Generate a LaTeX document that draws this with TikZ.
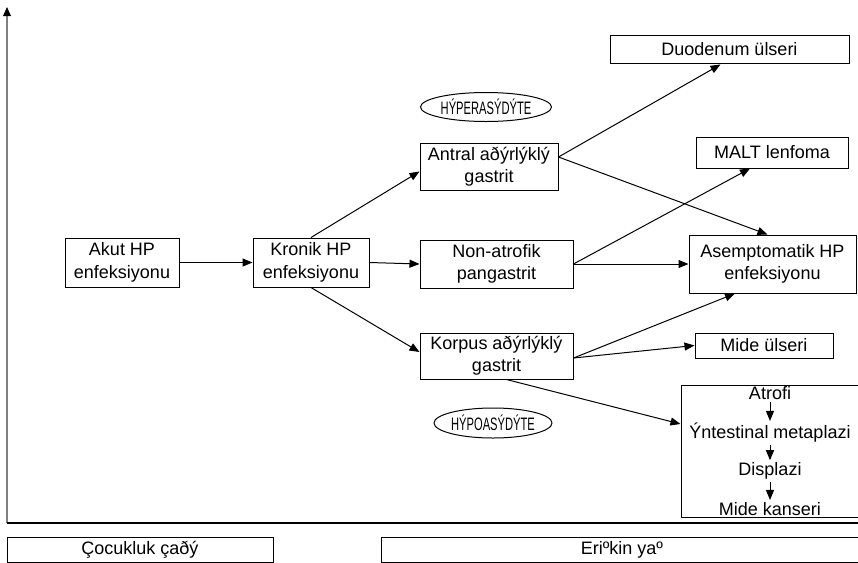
\documentclass[tikz,border=0pt]{standalone}
\usepackage{fontspec}
\setmainfont{Liberation Sans}
\usetikzlibrary{arrows.meta,calc,shapes.geometric}
\begin{document}
\begin{tikzpicture}[x=0.5pt,y=-0.5pt,
  font=\fontsize{9}{11.2}\selectfont,
  box/.style 2 args={draw,line width=0.5pt,minimum width=#1*0.5pt,minimum height=#2*0.5pt,inner sep=1pt,align=center},
  oval/.style 2 args={draw,ellipse,line width=0.5pt,minimum width=#1*0.5pt,minimum height=#2*0.5pt,inner sep=0pt},
  plain/.style={inner sep=1pt},
  conn/.style={line width=0.5pt,-{Triangle[length=5pt,width=4pt]}},
  line/.style={line width=0.5pt}]
\useasboundingbox (0,0) rectangle (858,563);
% axes
\coordinate (ytop) at (7,7);
\coordinate (origin) at (7,523);
\coordinate (xend) at (858,523);
\draw[line width=0.6pt,gray] (origin) -- ($(ytop)+(0,8)$);
\fill ($(ytop)$) -- ($(ytop)+(-4,9)$) -- ($(ytop)+(4,9)$) -- cycle;
\draw[line width=0.6pt] (origin) -- (xend);
% nodes
\node[box={114}{49}] (akut) at (122,262.5) {Akut HP\\enfeksiyonu};
\node[box={116}{49}] (kronik) at (311,262.5) {Kronik HP\\enfeksiyonu};
\node[box={138}{47}] (antral) at (489,166.5) {Antral aðýrlýklý\\gastrit};
\node[box={153}{48}] (nonatrofik) at (496.5,264) {Non-atrofik\\pangastrit};
\node[box={153}{46}] (korpus) at (496.5,356) {Korpus aðýrlýklý\\gastrit};
\node[oval={131}{29}] (hyper) at (486,107) {};
\node[plain] (hypertext) at (hyper.center) {\scalebox{0.62}[1]{HÝPERASÝDÝTE}};
\node[oval={118}{30}] (hypo) at (493,423) {};
\node[plain] (hypotext) at (hypo.center) {\scalebox{0.62}[1]{HÝPOASÝDÝTE}};
\node[box={239}{28}] (duodenum) at (729.5,49) {Duodenum ülseri};
\node[box={152}{31}] (malt) at (772,152.5) {MALT lenfoma};
\node[box={167}{58}] (asemp) at (772.5,264) {Asemptomatik HP\\enfeksiyonu};
\node[box={138}{25}] (mideulser) at (764,345.5) {Mide ülseri};
\node[box={181}{132}] (big) at (771.5,451) {};
\node[plain] (atrofi) at (770,393) {Atrofi};
\node[plain] (intest) at (770,433) {Ýntestinal metaplazi};
\node[plain] (displazi) at (770,471) {Displazi};
\node[plain] (kanser) at (770,509) {Mide kanseri};
\node[box={266}{25}] (cocuk) at (140,549.5) {Çocukluk çaðý};
\node[box={482}{25}] (eriskin) at (622,549.5) {Eriºkin yaº};
% connectors
\draw[conn] (akut.east) -- (kronik.west);
\draw[conn] (kronik.east) -- (nonatrofik.west);
\draw[conn] (kronik.north) -- ($(antral.west)+(0,5)$);
\draw[conn] (kronik.south) -- ($(korpus.west)+(0,-4)$);
\coordinate (antralout) at ($(antral.east)+(0,-9.5)$);
\draw[conn] (antralout) -- ($(duodenum.south)+(-9,1)$);
\draw[conn] (antralout) -- ($(asemp.north)+(-5,0)$);
\draw[conn] (nonatrofik.east) -- ($(malt.south)+(-22,0)$);
\draw[conn] (nonatrofik.east) -- (asemp.west);
\coordinate (korpusout) at ($(korpus.east)+(0,2)$);
\draw[conn] (korpusout) -- ($(asemp.south)+(-37.5,0)$);
\draw[conn] (korpusout) -- (mideulser.west);
\draw[conn] ($(korpus.south)+(10,0)$) -- ($(big.west)+(0,-27)$);
\draw[conn] (atrofi) -- (intest);
\draw[conn] (intest) -- (displazi);
\draw[conn] (displazi) -- (kanser);
\end{tikzpicture}
\end{document}
